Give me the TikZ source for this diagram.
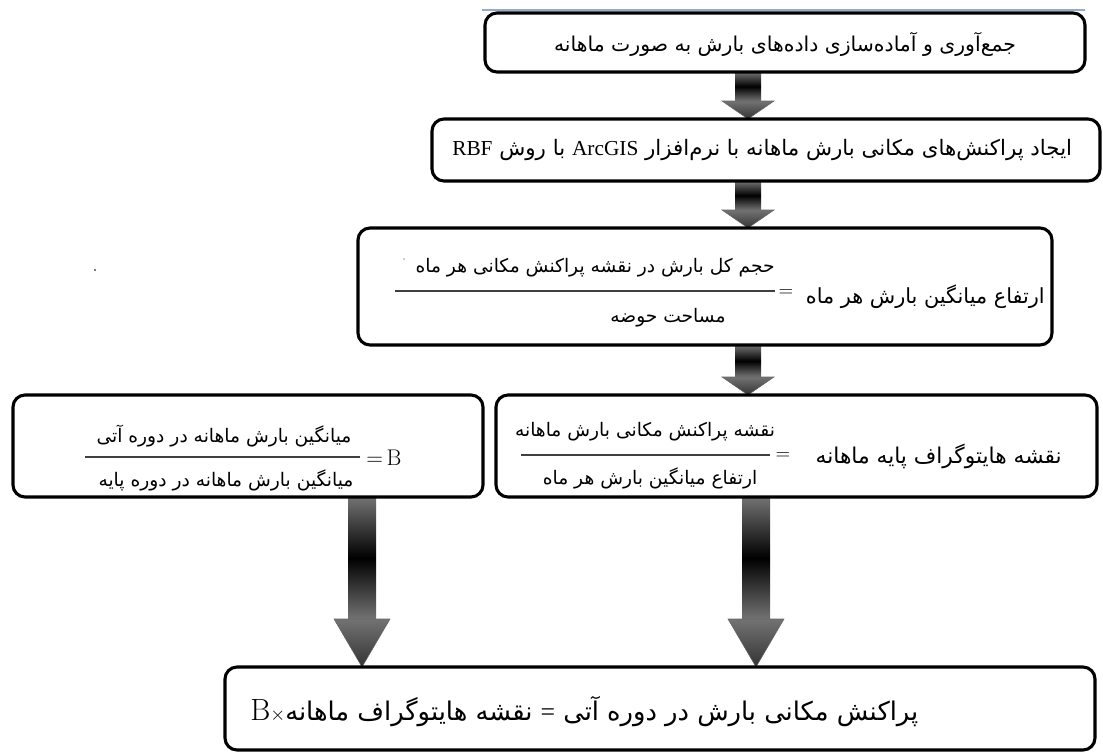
\documentclass[tikz,border=0pt]{standalone}
\usepackage{fontspec}
\newfontfamily\ar[Script=Arabic]{DejaVu Sans}
\newfontfamily\tnr{Liberation Serif}
\TeXXeTstate=1
\usetikzlibrary{calc}
\pgfdeclarelayer{bg}
\pgfsetlayers{bg,main}
\tikzset{
  box/.style={draw=black, line width=2.3pt, rounded corners=9pt, inner sep=0pt, outer sep=0pt, fill=white},
  fone/.style={font=\ar\fontsize{15.3}{18}\selectfont, inner sep=0pt},
  ftwo/.style={font=\ar\fontsize{16}{19}\selectfont, inner sep=0pt},
  ffr/.style={font=\ar\fontsize{14}{17}\selectfont, inner sep=0pt},
  flab/.style={font=\ar\fontsize{16.3}{19}\selectfont, inner sep=0pt},
  fbig/.style={font=\ar\fontsize{19.3}{22}\selectfont, inner sep=0pt},
  eqsign/.style={font=\fontsize{15}{17}\selectfont, inner sep=0pt},
  fracline/.style={line width=1pt, draw=black!75},
  shaftshade/.style={top color=black!55, bottom color=black!55, middle color=black},
  headshade/.style={top color=black!55, bottom color=black!80, draw=black!60, line width=0.4pt},
}
\newcommand\blockarrow[5]{%
  \coordinate (as) at (#1 |- #2.south);
  \coordinate (ae) at (#1 |- #3.north);
  \shade[shaftshade] ($(as)+(-#4,0)$) rectangle ($(ae)+(#4,-#5)$);
  \shade[headshade] ($(ae)+(-2*#4,-#5)$) -- ($(ae)+(2*#4,-#5)$) -- (ae) -- cycle;
}
\begin{document}
\begin{tikzpicture}[x=0.75pt,y=-0.75pt]
\useasboundingbox (0,0) rectangle (1103,753);
% boxes
\node[box, minimum width=450pt, minimum height=44.25pt] (b1) at (785,42.5) {};
\node[box, minimum width=501pt, minimum height=46.5pt] (b2) at (766,150) {};
\node[box, minimum width=520.5pt, minimum height=87.75pt] (b3) at (705,286.5) {};
\node[box, minimum width=352.5pt, minimum height=76.5pt] (b4) at (248,446) {};
\node[box, minimum width=450.75pt, minimum height=76.5pt] (b5) at (796.5,446) {};
\node[box, minimum width=652.5pt, minimum height=62.25pt] (b6) at (660,708.5) {};
% thin top line and specks
\coordinate (tl1) at (482,10);
\coordinate (tl2) at (1085,10);
\draw[color={rgb,255:red,150;green,170;blue,205}, line width=0.8pt] (tl1) -- (tl2);
\fill[black!70] (95,270) circle (1.2);
\fill[black!30] (404,259) circle (1);
% x positions of arrows
\coordinate (xa) at (748,0);
\coordinate (xl) at (362,0);
\coordinate (xr) at (756,0);
\begin{pgfonlayer}{bg}
\blockarrow{xa}{b1}{b2}{13}{18}
\blockarrow{xa}{b2}{b3}{13}{18}
\blockarrow{xa}{b3}{b5}{13}{18}
\blockarrow{xl}{b4}{b6}{14}{48}
\blockarrow{xr}{b5}{b6}{14}{48}
\end{pgfonlayer}
% box 1
\node[fone] (t1) at (785,44) {\beginR جمع‌آوری و آماده‌سازی داده‌های بارش به صورت ماهانه\endR};
% box 2
\node[ftwo, anchor=west] (t2) at (452,150) {\beginR ایجاد پراکنش‌های مکانی بارش ماهانه با نرم‌افزار \hbox{\tnr ArcGIS} با روش \hbox{\tnr RBF}\endR};
% box 3
\node[flab, font=\ar\fontsize{15.6}{19}\selectfont, anchor=east] (l3) at (1045,297) {\beginR ارتفاع میانگین بارش هر ماه\endR};
\node[eqsign] (e3) at (786,293) {$=$};
\coordinate (f3a) at (395,291);
\coordinate (f3b) at (775,291);
\draw[fracline] (f3a) -- (f3b);
\node[ffr, anchor=east] (n3) at (775,268) {\beginR حجم کل بارش در نقشه پراکنش مکانی هر ماه\endR};
\node[ffr] (d3) at (668,318) {\beginR مساحت حوضه\endR};
% box 4
\coordinate (f4a) at (85,457);
\coordinate (f4b) at (360,457);
\draw[fracline] (f4a) -- (f4b);
\node[ffr] (n4) at (224,436) {\beginR میانگین بارش ماهانه در دوره آتی\endR};
\node[ffr] (d4) at (226,480) {\beginR میانگین بارش ماهانه در دوره پایه\endR};
\node[font=\fontsize{17}{19}\selectfont, inner sep=0pt, anchor=west] (e4) at (366,458) {$=$\,B};
% box 5
\coordinate (f5a) at (521,455);
\coordinate (f5b) at (770,455);
\draw[fracline] (f5a) -- (f5b);
\node[ffr] (n5) at (645,432) {\beginR نقشه پراکنش مکانی بارش ماهانه\endR};
\node[ffr] (d5) at (650,478) {\beginR ارتفاع میانگین بارش هر ماه\endR};
\node[eqsign] (e5) at (783,456) {$=$};
\node[flab, anchor=east] (l5) at (1062,456) {\beginR نقشه هایتوگراف پایه ماهانه\endR};
% box 6
\node[fbig, anchor=west] (t6) at (250,712) {\beginR پراکنش مکانی بارش در دوره آتی \hbox{\tnr=} نقشه هایتوگراف ماهانه\hbox{\rmfamily\fontsize{14}{16}\selectfont$\times$}\hbox{\rmfamily\fontsize{23}{25}\selectfont B}\endR};
\end{tikzpicture}
\end{document}
